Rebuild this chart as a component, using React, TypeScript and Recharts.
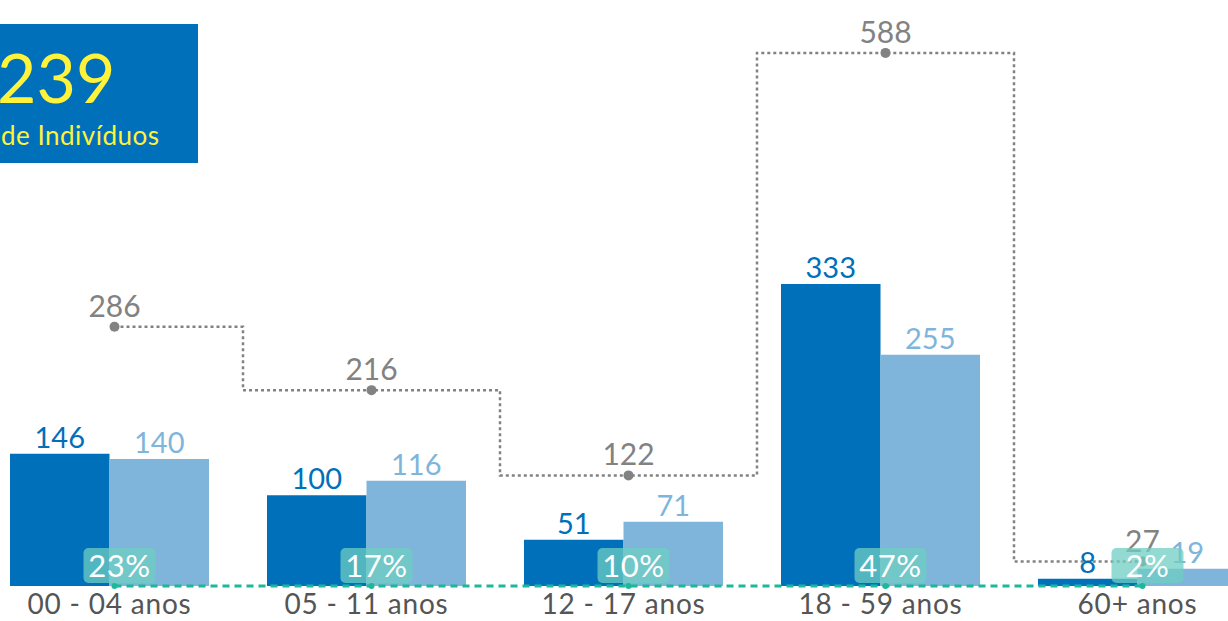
import { ComposedChart, Bar, Line, XAxis, YAxis, LabelList } from "recharts";

const categories = ["00 - 04 anos", "05 - 11 anos", "12 - 17 anos", "18 - 59 anos", "60+ anos"];
const serieA = [146, 100, 51, 333, 8];
const serieB = [140, 116, 71, 255, 19];
const totals = [286, 216, 122, 588, 27];
const percents = ["23%", "17%", "10%", "47%", "2%"];
const totalIndividuos = "239";

const darkBlue = "#0070ba";
const lightBlue = "#7fb5db";
const gray = "#828282";
const teal = "#1db899";
const font = "Lato, 'Open Sans', sans-serif";

const data = categories.map((name, i) => ({
    name,
    a: serieA[i],
    b: serieB[i],
    total: totals[i],
    base: 0,
    pct: percents[i],
}));

function CategoryTick({ x, y, payload }) {
    return (
        <text
            x={x}
            y={y + 20}
            textAnchor="middle"
            fontSize={28}
            letterSpacing={0.8}
            fill="#555"
            fontFamily={font}
        >
            {payload.value}
        </text>
    );
}

function PctLabel({ x, y, value }) {
    const cx = x + 5;
    return (
        <g>
            <rect x={cx - 36} y={y - 38} width={72} height={35} rx={5} fill="rgba(110,205,195,0.75)" />
            <text
                x={cx}
                y={y - 9}
                textAnchor="middle"
                fontSize={31}
                letterSpacing={0.5}
                fill="#fff"
                fontFamily={font}
            >
                {value}
            </text>
        </g>
    );
}

export default function App() {
    return (
        <div
            style={{
                position: "fixed",
                left: 0,
                top: 0,
                width: 1228,
                height: 621,
                overflow: "hidden",
                background: "#fff",
                fontFamily: font,
            }}
        >
            <div style={{ position: "absolute", left: -19, top: 0 }}>
                <ComposedChart
                    width={1285}
                    height={621}
                    data={data}
                    margin={{ top: 42, right: 0, bottom: 0, left: 0 }}
                    barGap={0}
                >
                    <XAxis
                        dataKey="name"
                        axisLine={false}
                        tickLine={false}
                        height={35}
                        interval={0}
                        tick={<CategoryTick />}
                    />
                    <XAxis
                        xAxisId="pts"
                        dataKey="name"
                        hide
                        padding={{ left: 5, right: -5 }}
                    />
                    <YAxis hide domain={[0, 600]} />
                    <Bar dataKey="a" fill={darkBlue} barSize={99.5} isAnimationActive={false}>
                        <LabelList dataKey="a" position="top" offset={6} fill={darkBlue} fontSize={29} fontFamily={font} />
                    </Bar>
                    <Bar dataKey="b" fill={lightBlue} barSize={99.5} isAnimationActive={false}>
                        <LabelList dataKey="b" position="top" offset={6} fill={lightBlue} fontSize={29} fontFamily={font} />
                    </Bar>
                    <Line
                        xAxisId="pts"
                        type="step"
                        dataKey="total"
                        stroke={gray}
                        strokeWidth={2.5}
                        strokeDasharray="3 3"
                        dot={{ r: 5, fill: gray, stroke: gray, strokeWidth: 0 }}
                        isAnimationActive={false}
                    >
                        <LabelList dataKey="total" position="top" offset={10} fill={gray} fontSize={30} fontFamily={font} />
                    </Line>
                    <Line
                        xAxisId="pts"
                        type="linear"
                        dataKey="base"
                        stroke={teal}
                        strokeWidth={3}
                        strokeDasharray="7 5"
                        dot={{ r: 3, fill: teal, stroke: teal, strokeWidth: 0 }}
                        isAnimationActive={false}
                    >
                        <LabelList dataKey="pct" content={<PctLabel />} />
                    </Line>
                </ComposedChart>
            </div>
            <div
                style={{
                    position: "absolute",
                    left: 0,
                    top: 24,
                    width: 198,
                    height: 139,
                    background: darkBlue,
                    color: "#fff23a",
                }}
            >
                <div style={{ position: "absolute", left: -3, top: 19, fontSize: 68, lineHeight: "68px" }}>
                    {totalIndividuos}
                </div>
                <div
                    style={{
                        position: "absolute",
                        left: 1,
                        top: 96,
                        fontSize: 26,
                        letterSpacing: 0.5,
                        lineHeight: "30px",
                    }}
                >
                    de Indivíduos
                </div>
            </div>
        </div>
    );
}
